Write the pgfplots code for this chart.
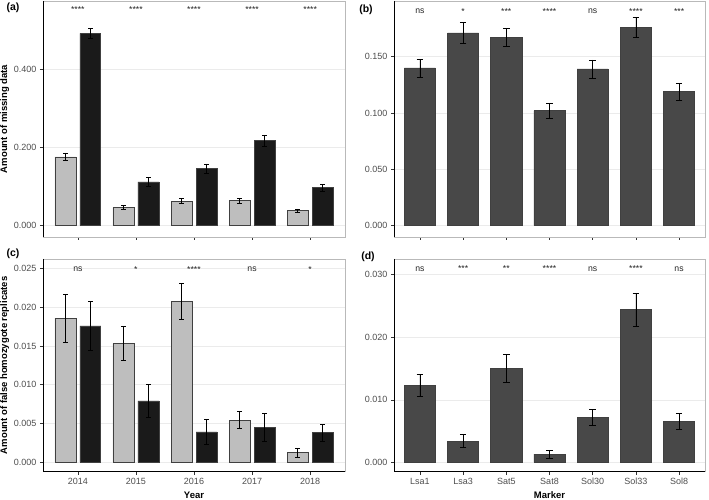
\documentclass[border=0pt]{standalone}
\usepackage{pgfplots}
\usepackage{pgfplotstable}
\pgfplotsset{compat=1.18}
\usepackage{fontspec}
\setmainfont{Liberation Sans}

\definecolor{lightbar}{HTML}{BEBEBE}
\definecolor{darkbar}{HTML}{1A1A1A}
\definecolor{midbar}{HTML}{484848}
\definecolor{gridc}{HTML}{EBEBEB}
\definecolor{tickc}{HTML}{4D4D4D}

% year, light mean/se, dark mean/se
\pgfplotstableread{
x l le d de
1 0.176 0.010 0.492 0.012
2 0.046 0.005 0.112 0.011
3 0.063 0.006 0.146 0.012
4 0.064 0.006 0.217 0.015
5 0.038 0.005 0.097 0.008
}\tA
\pgfplotstableread{
x y e
1 0.140 0.0080
2 0.171 0.0090
3 0.167 0.0080
4 0.102 0.0070
5 0.139 0.0080
6 0.176 0.0090
7 0.119 0.0077
}\tB
\pgfplotstableread{
x l le d de
1 0.0186 0.0031 0.0176 0.0032
2 0.0153 0.0022 0.0079 0.0021
3 0.0208 0.0023 0.0039 0.0016
4 0.0054 0.0011 0.0045 0.0018
5 0.0012 0.0006 0.0038 0.0011
}\tC
\pgfplotstableread{
x y e
1 0.0123 0.0018
2 0.0034 0.0010
3 0.0150 0.0022
4 0.0013 0.0006
5 0.0072 0.0013
6 0.0244 0.0026
7 0.0065 0.0013
}\tD

\tikzset{sig/.style={font=\fontsize{8.7}{9}\selectfont, text=black!85}}
\pgfplotsset{
  panel/.style={
    scale only axis, anchor=south west, ybar,
    axis line style={draw=gray!55, line width=0.6pt},
    ymajorgrids, major grid style={gridc, line width=0.5pt},
    tick style={black!80, line width=0.5pt},
    tick align=outside, major tick length=3pt,
    xtick pos=bottom, ytick pos=left,
    minor tick num=0,
    ticklabel style={font=\fontsize{9}{9}\selectfont, text=tickc},
    scaled y ticks=false,
    yticklabel style={/pgf/number format/.cd, fixed, fixed zerofill, precision=3, assume math mode=true},
    label style={font=\bfseries\fontsize{9.5}{10}\selectfont},
    ylabel style={yshift=-2pt},
  },
  barstyle/.style={draw=black!75, line width=0.6pt,
    error bars/y dir=both, error bars/y explicit,
    error bars/error bar style={black, line width=0.6pt},
    error bars/error mark options={black, mark size=#1, line width=0.6pt, rotate=90}},
}

\begin{document}
\begin{tikzpicture}
\path[use as bounding box] (0pt,0pt) rectangle (709pt,500pt);

% (a)
\begin{axis}[panel, at={(43pt,263pt)}, width=302pt, height=236pt,
  xmin=0.4, xmax=5.6, ymin=-0.029, ymax=0.5745,
  xtick={1,...,5}, xticklabels={},
  ytick={0,0.2,0.4},
  ylabel={Amount of missing data}]
  \addplot[barstyle=2.3pt, fill=lightbar, bar width=0.36, bar shift=-0.215]
    table[x=x, y=l, y error=le] {\tA};
  \addplot[barstyle=2.3pt, fill=darkbar, bar width=0.36, bar shift=0.215]
    table[x=x, y=d, y error=de] {\tA};
  \node[sig] at (axis cs:1,0.552) {****};
  \node[sig] at (axis cs:2,0.552) {****};
  \node[sig] at (axis cs:3,0.552) {****};
  \node[sig] at (axis cs:4,0.552) {****};
  \node[sig] at (axis cs:5,0.552) {****};
  \draw[black, line width=0.6pt] (rel axis cs:0,1) -- (rel axis cs:0,0) -- (rel axis cs:1,0);
\end{axis}

% (b)
\begin{axis}[panel, at={(394pt,263pt)}, width=311pt, height=236pt,
  xmin=0.4, xmax=7.6, ymin=-0.0100, ymax=0.1993,
  xtick={1,...,7}, xticklabels={},
  ytick={0,0.05,0.1,0.15}]
  \addplot[barstyle=3.3pt, fill=midbar, bar width=0.72, bar shift=0]
    table[x=x, y=y, y error=e] {\tB};
  \node[sig] at (axis cs:1,0.190) {ns};
  \node[sig] at (axis cs:2,0.190) {*};
  \node[sig] at (axis cs:3,0.190) {***};
  \node[sig] at (axis cs:4,0.190) {****};
  \node[sig] at (axis cs:5,0.190) {ns};
  \node[sig] at (axis cs:6,0.190) {****};
  \node[sig] at (axis cs:7,0.190) {***};
  \draw[black, line width=0.6pt] (rel axis cs:0,1) -- (rel axis cs:0,0) -- (rel axis cs:1,0);
\end{axis}

% (c)
\begin{axis}[panel, at={(43pt,28.3pt)}, width=302pt, height=212.7pt,
  xmin=0.4, xmax=5.6, ymin=-0.00125, ymax=0.02625,
  xtick={1,...,5}, xticklabels={2014,2015,2016,2017,2018},
  ytick={0,0.005,0.01,0.015,0.02,0.025},
  xlabel={Year}, ylabel={Amount of false homozygote replicates}]
  \addplot[barstyle=2.2pt, fill=lightbar, bar width=0.36, bar shift=-0.215]
    table[x=x, y=l, y error=le] {\tC};
  \addplot[barstyle=2.2pt, fill=darkbar, bar width=0.36, bar shift=0.215]
    table[x=x, y=d, y error=de] {\tC};
  \node[sig] at (axis cs:1,0.0249) {ns};
  \node[sig] at (axis cs:2,0.0249) {*};
  \node[sig] at (axis cs:3,0.0249) {****};
  \node[sig] at (axis cs:4,0.0249) {ns};
  \node[sig] at (axis cs:5,0.0249) {*};
  \draw[black, line width=0.6pt] (rel axis cs:0,1) -- (rel axis cs:0,0) -- (rel axis cs:1,0);
\end{axis}

% (d)
\begin{axis}[panel, at={(394pt,28.3pt)}, width=311pt, height=212.7pt,
  xmin=0.4, xmax=7.6, ymin=-0.0015, ymax=0.0325,
  xtick={1,...,7}, xticklabels={Lsa1,Lsa3,Sat5,Sat8,Sol30,Sol33,Sol8},
  ytick={0,0.01,0.02,0.03},
  xlabel={Marker}]
  \addplot[barstyle=3.3pt, fill=midbar, bar width=0.72, bar shift=0]
    table[x=x, y=y, y error=e] {\tD};
  \node[sig] at (axis cs:1,0.0309) {ns};
  \node[sig] at (axis cs:2,0.0309) {***};
  \node[sig] at (axis cs:3,0.0309) {**};
  \node[sig] at (axis cs:4,0.0309) {****};
  \node[sig] at (axis cs:5,0.0309) {ns};
  \node[sig] at (axis cs:6,0.0309) {****};
  \node[sig] at (axis cs:7,0.0309) {ns};
  \draw[black, line width=0.6pt] (rel axis cs:0,1) -- (rel axis cs:0,0) -- (rel axis cs:1,0);
\end{axis}

\node[font=\bfseries\fontsize{10.5}{11}\selectfont] at (13pt,492pt) {(a)};
\node[font=\bfseries\fontsize{10.5}{11}\selectfont] at (366pt,490pt) {(b)};
\node[font=\bfseries\fontsize{10.5}{11}\selectfont] at (13pt,246pt) {(c)};
\node[font=\bfseries\fontsize{10.5}{11}\selectfont] at (368pt,243pt) {(d)};
\end{tikzpicture}
\end{document}
